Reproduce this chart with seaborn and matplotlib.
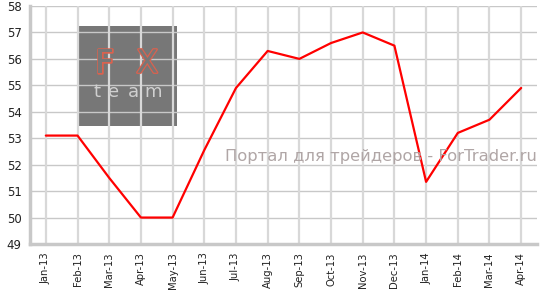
import matplotlib
matplotlib.use("Agg")
import matplotlib.pyplot as plt
import matplotlib.patheffects as pe
from matplotlib.patches import Rectangle
import seaborn as sns
import pandas as pd
import numpy as np

months = ["Jan-13", "Feb-13", "Mar-13", "Apr-13", "May-13", "Jun-13", "Jul-13", "Aug-13",
          "Sep-13", "Oct-13", "Nov-13", "Dec-13", "Jan-14", "Feb-14", "Mar-14", "Apr-14"]
values = [53.1, 53.1, 51.5, 50.0, 50.0, 52.55, 54.9, 56.3, 56.0, 56.6, 57.0, 56.5,
          51.35, 53.2, 53.7, 54.9]
y_ticks = [49, 50, 51, 52, 53, 54, 55, 56, 57, 58]

sns.set_style("white")
plt.rcParams['font.family'] = ['DejaVu Sans']

df = pd.DataFrame({"pos": np.arange(len(months)), "value": values})

fig = plt.figure(figsize=(5.42, 2.93), dpi=100)
ax = fig.add_axes([30/542, 49/293, 507/542, 238/293])

sns.lineplot(data=df, x="pos", y="value", color="#ff0000", linewidth=1.6, ax=ax, zorder=5)

ax.set_xlim(-0.5, len(months) - 0.5)
ax.set_ylim(49, 58)
ax.set_yticks(y_ticks)
ax.set_yticklabels([str(t) for t in y_ticks], fontsize=8.5, color="#222222")
ax.set_xticks(df["pos"])
ax.set_xticklabels(months, rotation=90, fontsize=7.2, color="#222222")
ax.set_xlabel("")
ax.set_ylabel("")

# grid
for t in y_ticks[1:]:
    ax.axhline(t, color="#c8c8c8", linewidth=1.0, zorder=2)
for p in df["pos"]:
    ax.axvline(p, color="#d8d8d8", linewidth=1.6, zorder=2)

for s in ["top", "right"]:
    ax.spines[s].set_visible(False)
for s in ["left", "bottom"]:
    ax.spines[s].set_color("#c8c8c8")
    ax.spines[s].set_linewidth(2.5)
ax.tick_params(axis="both", length=4, width=1, color="#c8c8c8", pad=2)

# logo box
ax.add_patch(Rectangle((0.98, 53.45), 3.17, 3.8, facecolor="#777777",
                       edgecolor="none", zorder=1))
outline = [pe.Stroke(linewidth=1.8, foreground="#d9624f"), pe.Normal()]
ax.text(1.85, 55.8, "F", fontsize=23, color="#777777", ha="center", va="center",
        zorder=3, path_effects=outline)
ax.text(3.2, 55.8, "X", fontsize=23, color="#777777", ha="center", va="center",
        zorder=3, path_effects=outline)
for ch, px in zip(["t", "e", "a", "m"], [1.6, 2.15, 2.75, 3.4]):
    ax.text(px, 54.75, ch, fontsize=13, color="#d0d0d0", ha="center", va="center",
            zorder=3)

# watermark
ax.text(15.5, 52.3, "Портал для трейдеров - ForTrader.ru", fontsize=11.8,
        color="#b0a6a6", ha="right", va="center", zorder=6)

fig.savefig("out.png", dpi=100)
